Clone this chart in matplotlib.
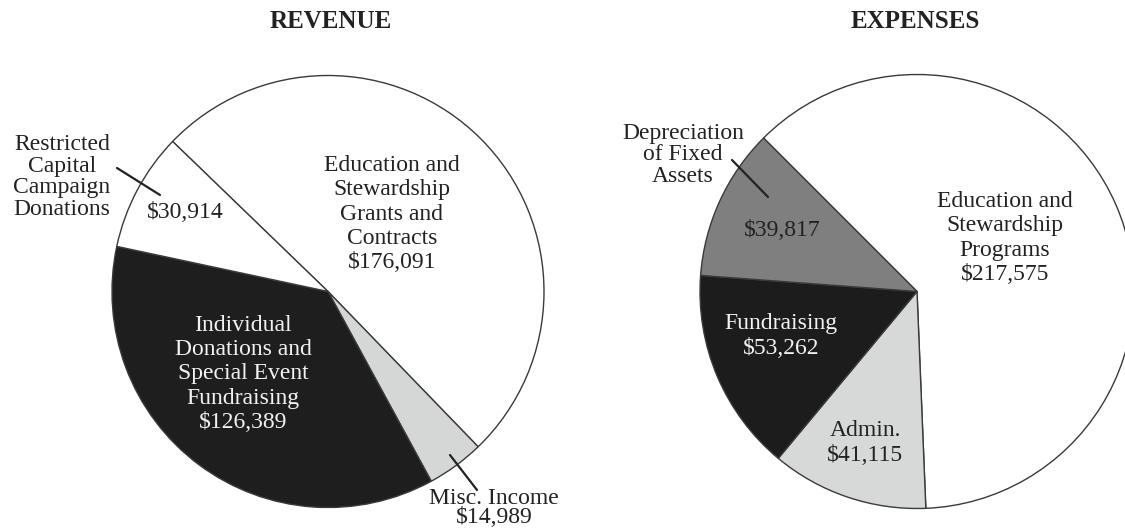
import matplotlib
matplotlib.use('Agg')
import matplotlib.pyplot as plt

# revenue data (clockwise from the upper-left boundary)
rev_labels = ['Education and\nStewardship\nGrants and\nContracts', 'Misc. Income',
              'Individual\nDonations and\nSpecial Event\nFundraising',
              'Restricted\nCapital\nCampaign\nDonations']
rev_values = [176091, 14989, 126389, 30914]
rev_colors = ['white', '#d5d7d7', '#1e1e1e', 'white']

# expenses data
exp_labels = ['Education and\nStewardship\nPrograms', 'Admin.', 'Fundraising',
              'Depreciation\nof Fixed\nAssets']
exp_values = [217575, 41115, 53262, 39817]
exp_colors = ['white', '#d7d9d9', '#1c1c1c', '#7f7f7f']

W, H = 1125, 531
def py(y):
    # pixel row -> data y
    return H - y

def money(v):
    return '${:,}'.format(v)

fig = plt.figure(figsize=(W / 100, H / 100), dpi=100)
ax = fig.add_axes([0, 0, 1, 1])
ax.set_xlim(0, W)
ax.set_ylim(0, H)
ax.set_aspect('equal')
ax.axis('off')

wp = dict(edgecolor='#3a3a3a', linewidth=1.0)
ax.pie(rev_values, colors=rev_colors, startangle=136, counterclock=False,
       center=(328, py(291.5)), radius=216, wedgeprops=wp, frame=True)
ax.pie(exp_values, colors=exp_colors, startangle=135, counterclock=False,
       center=(917, py(291.5)), radius=217, wedgeprops=wp, frame=True)
ax.set_xlim(0, W)
ax.set_ylim(0, H)
ax.axis('off')

serif = ['Liberation Serif', 'DejaVu Serif']
dark = '#222222'
light = '#f2f2f2'

def label(x, y, s, color=dark, ls=1.2):
    ax.text(x, py(y), s, ha='center', va='center', fontsize=17, family=serif,
            color=color, linespacing=ls)

ax.text(331, py(21), 'REVENUE', ha='center', va='center', fontsize=18,
        fontweight='bold', family=serif, color=dark)
ax.text(915, py(22), 'EXPENSES', ha='center', va='center', fontsize=18,
        fontweight='bold', family=serif, color=dark)

# revenue labels
label(392, 214, rev_labels[0] + '\n' + money(rev_values[0]))
label(243, 374, rev_labels[2] + '\n' + money(rev_values[2]), color=light)
label(62, 177, rev_labels[3], ls=1.05)
label(185, 212, money(rev_values[3]))
label(494, 508, rev_labels[1] + '\n' + money(rev_values[1]), ls=0.9)

# expenses labels
label(1005, 238, exp_labels[0] + '\n' + money(exp_values[0]))
label(781, 336, exp_labels[2] + '\n' + money(exp_values[2]), color=light)
label(865, 443, exp_labels[1] + '\n' + money(exp_values[1]))
label(782, 230, money(exp_values[3]))
label(683, 155, exp_labels[3], ls=1.05)

# leader lines
lines = [((117, 168), (160, 195)), ((450, 455), (477, 490)),
         ((732, 160), (768, 197))]
for (x0, y0), (x1, y1) in lines:
    ax.annotate('', xy=(x1, py(y1)), xytext=(x0, py(y0)),
                arrowprops=dict(arrowstyle='-', color='#222222', lw=1.6,
                                shrinkA=0, shrinkB=0))

fig.savefig('out.png', dpi=100, facecolor='white')
